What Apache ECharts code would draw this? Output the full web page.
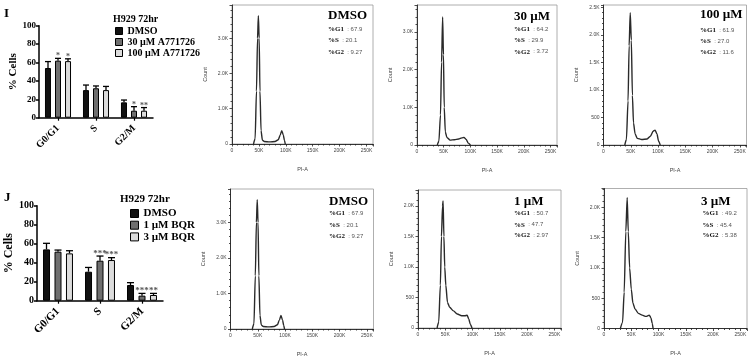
<!DOCTYPE html>
<html><head><meta charset="utf-8">
<script src="https://cdn.jsdelivr.net/npm/echarts@6/dist/echarts.min.js"></script>
<style>html,body{margin:0;padding:0;background:#fff}#c{width:751px;height:358px}</style>
</head><body><div id="c"></div>
<script>
// ---------- data ----------
const phases = ['G0/G1', 'S', 'G2/M'];
const legendTitle = 'H929 72hr';
const namesI = ['DMSO', '30 µM A771726', '100 µM A771726'];
const namesJ = ['DMSO', '1 µM BQR', '3 µM BQR'];
const meanI = [[54, 30, 16.7], [62, 32, 7.6], [61.5, 30, 7.6]];
const errTopI = [[61, 35.5, 19.2], [64.5, 34.5, 12], [64, 34, 11]];
const sigI = [['', '', ''], ['*', '', '*'], ['*', '', '**']];
const meanJ = [[54, 30.5, 16.5], [51.6, 42.1, 5.3], [49.8, 42.8, 6]];
const errTopJ = [[60.4, 35, 19], [53.3, 47, 7.7], [52.6, 45.3, 7.7]];
const sigJ = [['', '', ''], ['', '***', '***'], ['', '***', '**']];

const histTitles = ['DMSO', '30 µM', '100 µM', 'DMSO', '1 µM', '3 µM'];
const pctG1 = ['67.9', '64.2', '61.9', '67.9', '50.7', '49.2'];
const pctS = ['20.1', '29.9', '27.0', '20.1', '47.7', '45.4'];
const pctG2 = ['9.27', '3.72', '11.6', '9.27', '2.97', '5.38'];

// PI-A in thousands, Count
const xDmso = [40, 43, 45.5, 47.5, 49, 50.5, 52, 54, 56.5, 60, 70, 80, 86, 89.5, 92.5, 95.5, 97.5, 99];
const yDmso = [0, 150, 1500, 3000, 3640, 3000, 1500, 380, 110, 70, 60, 70, 120, 250, 380, 250, 100, 0];
const x30 = [38, 41, 44, 46, 48, 49.5, 51, 53, 56, 62, 70, 78, 84, 88, 92, 96, 100];
const y30 = [0, 100, 800, 2200, 3400, 2400, 1000, 350, 200, 130, 140, 160, 190, 200, 150, 50, 0];
const x100 = [39, 42, 45, 47, 49, 51, 53, 55, 58, 62, 70, 80, 86, 91, 94.5, 98, 101, 104];
const y100 = [0, 100, 800, 1800, 2400, 1900, 900, 400, 200, 120, 100, 110, 160, 250, 270, 200, 70, 0];
const x1 = [35, 38, 41, 43, 45, 46, 47.5, 49, 51, 54, 58, 65, 72, 80, 86, 90, 93, 96, 99];
const y1 = [0, 100, 700, 1500, 2000, 2080, 1500, 1000, 700, 420, 340, 280, 230, 200, 200, 210, 150, 60, 0];
const x3 = [30, 34, 37, 40, 42.5, 44.5, 47, 50, 53, 57, 63, 70, 77, 83, 86, 88.5, 90];
const y3 = [0, 100, 600, 1600, 2160, 1600, 1000, 650, 420, 320, 250, 220, 200, 220, 180, 80, 0];
const histX = [xDmso, x30, x100, xDmso, x1, x3];
const histY = [yDmso, y30, y100, yDmso, y1, y3];
const histYMax = [3940, 3720, 2540, 3940, 2260, 2310];
const histYStep = [1000, 1000, 500, 1000, 500, 500];

// ---------- layout / style ----------
const SERIF = '"Liberation Serif","Times New Roman",serif';
const SANS = '"Liberation Sans",Arial,sans-serif';
const barColors = ['#111111', '#6f6f6f', '#dcdcdc'];
const histGrids = [
  {left: 232, top: 5, width: 141, height: 139},
  {left: 417, top: 5, width: 140, height: 140},
  {left: 603.5, top: 5, width: 143, height: 140},
  {left: 230.5, top: 189, width: 143, height: 140},
  {left: 418, top: 190, width: 143, height: 138},
  {left: 604, top: 188.5, width: 143, height: 140}
];
const annPos = [
  {lx: 328, ly: 16, tx: 328, ty: [29, 40.5, 52]},
  {lx: 514, ly: 17, tx: 514, ty: [29.3, 40.3, 51.7]},
  {lx: 700, ly: 15, tx: 700, ty: [30, 41.3, 52.3]},
  {lx: 329, ly: 201.7, tx: 329, ty: [213.3, 225, 236.3]},
  {lx: 514, ly: 201.7, tx: 514, ty: [213.3, 224.7, 235]},
  {lx: 701, ly: 201.7, tx: 702.5, ty: [213.3, 225, 235]}
];

const grids = [
  {left: 39, top: 25.7, width: 114, height: 92},
  {left: 37, top: 205.7, width: 126, height: 95}
].concat(histGrids.map(g => Object.assign({show: true, borderColor: '#9a9a9a', borderWidth: 0.8}, g)));

function barX(gi, fs) {
  return {gridIndex: gi, type: 'category', data: phases,
    axisLine: {show: true, lineStyle: {color: '#000', width: 1.5}},
    axisTick: {show: true, alignWithLabel: true, length: 3, lineStyle: {color: '#000', width: 1.2}},
    axisLabel: {rotate: 45, margin: 9, fontFamily: SERIF, fontWeight: 'bold', fontSize: fs, color: '#000'}};
}
function barY(gi, fs, nfs, gap) {
  return {gridIndex: gi, type: 'value', min: 0, max: 100, interval: 20,
    axisLine: {show: true, lineStyle: {color: '#000', width: 1.5}},
    axisTick: {show: true, length: 3, lineStyle: {color: '#000', width: 1.5}},
    axisLabel: {margin: 3, fontFamily: SERIF, fontWeight: 'bold', fontSize: fs, color: '#000'},
    splitLine: {show: false},
    name: '% Cells', nameLocation: 'middle', nameGap: gap,
    nameTextStyle: {fontFamily: SERIF, fontWeight: 'bold', fontSize: nfs, color: '#000'}};
}
const kfmt = v => v === 0 ? '0' : v + 'K';
const cfmt = v => v === 0 ? '0' : (v >= 1000 ? (v / 1000).toFixed(1) + 'K' : String(v));
const axLine = {show: true, onZero: false, lineStyle: {color: '#222', width: 0.9}};
const tickSty = {color: '#222', width: 0.8};

const xAxes = [barX(0, 10), barX(1, 11)];
const yAxes = [barY(0, 9, 11, 13), barY(1, 10, 12, 16)];
histGrids.forEach((g, k) => {
  xAxes.push({gridIndex: k + 2, type: 'value', min: 0, max: 262.144, interval: 50,
    axisLine: axLine, axisTick: {show: true, length: 2.5, lineStyle: tickSty},
    minorTick: {show: true, splitNumber: 5, length: 1.5, lineStyle: tickSty},
    axisLabel: {fontFamily: SANS, fontSize: 5, color: '#444', margin: 4, formatter: kfmt, showMaxLabel: false},
    splitLine: {show: false}, minorSplitLine: {show: false},
    name: 'PI-A', nameLocation: 'middle', nameGap: 22, nameTextStyle: {fontFamily: SANS, fontSize: 5.5, color: '#444'}});
  yAxes.push({gridIndex: k + 2, type: 'value', min: 0, max: histYMax[k], interval: histYStep[k],
    axisLine: axLine, axisTick: {show: true, length: 2.5, lineStyle: tickSty},
    minorTick: {show: true, splitNumber: 5, length: 1.5, lineStyle: tickSty},
    axisLabel: {fontFamily: SANS, fontSize: 5, color: '#444', margin: 4, formatter: cfmt, showMaxLabel: false},
    splitLine: {show: false}, minorSplitLine: {show: false},
    name: 'Count', nameLocation: 'middle', nameGap: 24, nameTextStyle: {fontFamily: SANS, fontSize: 5.5, color: '#444'}});
});

function errSeries(ax, si, means, tops, sigs, barW, gap, fs) {
  return {type: 'custom', xAxisIndex: ax, yAxisIndex: ax, z: 5, silent: true,
    data: means.map((m, i) => [i, m, tops[i]]),
    renderItem(params, api) {
      const c = api.value(0), m = api.value(1), e = api.value(2);
      const p0 = api.coord([c, m]), p1 = api.coord([c, e]);
      const x = p0[0] + (si - 1) * (barW + gap);
      const h = barW / 2;
      return {type: 'group', children: [
        {type: 'line', shape: {x1: x, y1: p0[1], x2: x, y2: p1[1]}, style: {stroke: '#000', lineWidth: 1.3}},
        {type: 'line', shape: {x1: x - h, y1: p1[1], x2: x + h, y2: p1[1]}, style: {stroke: '#000', lineWidth: 1.3}},
        {type: 'text', style: {text: sigs[params.dataIndex], x: x, y: p1[1] + 2, align: 'center', verticalAlign: 'bottom',
          font: 'bold ' + fs + 'px ' + SERIF, fill: '#555'}}
      ]};
    }};
}

const series = [];
[[namesI, meanI, errTopI, sigI, 0, 6, 4, 8], [namesJ, meanJ, errTopJ, sigJ, 1, 7, 4.5, 9]].forEach(([names, means, tops, sigs, ax, bw, gap, fs]) => {
  names.forEach((n, i) => {
    series.push({type: 'bar', name: n, xAxisIndex: ax, yAxisIndex: ax, data: means[i], barWidth: bw,
      barGap: (gap / bw * 100).toFixed(0) + '%', itemStyle: {color: barColors[i], borderColor: '#000', borderWidth: 1}, silent: true});
  });
  names.forEach((n, i) => series.push(errSeries(ax, i, means[i], tops[i], sigs[i], bw, gap, fs)));
});
histX.forEach((xs, k) => {
  series.push({type: 'line', xAxisIndex: k + 2, yAxisIndex: k + 2, data: xs.map((x, i) => [x, histY[k][i]]),
    showSymbol: false, smooth: 0.25, smoothMonotone: 'x', lineStyle: {color: '#2a2a2a', width: 1.4}, silent: true});
});

const graphic = [
  {type: 'text', x: 4, y: 14, style: {text: 'I', font: 'bold 13px ' + SERIF, fill: '#000', verticalAlign: 'middle'}},
  {type: 'text', x: 4, y: 198, style: {text: 'J', font: 'bold 13px ' + SERIF, fill: '#000', verticalAlign: 'middle'}},
  {type: 'text', x: 113, y: 19, style: {text: legendTitle, font: 'bold 10px ' + SERIF, fill: '#000', verticalAlign: 'middle'}},
  {type: 'text', x: 120, y: 199, style: {text: legendTitle, font: 'bold 11px ' + SERIF, fill: '#000', verticalAlign: 'middle'}}
];
const rich = {b: {font: 'bold 7px ' + SERIF, fill: '#111'}, v: {font: '6px ' + SANS, fill: '#555'}};
const rows = [['%G1', pctG1], ['%S', pctS], ['%G2', pctG2]];
annPos.forEach((p, k) => {
  graphic.push({type: 'text', x: p.lx, y: p.ly, style: {text: histTitles[k], font: 'bold 13px ' + SERIF, fill: '#000', verticalAlign: 'middle'}});
  rows.forEach(([lab, arr], r) => {
    graphic.push({type: 'text', x: p.tx, y: p.ty[r], style: {text: '{b|' + lab + '} {v|: ' + arr[k] + '}', rich: rich, verticalAlign: 'middle'}});
  });
});

const legendBase = {orient: 'vertical', icon: 'rect', selectedMode: false, padding: 0,
  itemStyle: {borderColor: '#000', borderWidth: 1}};
const legend = [
  Object.assign({}, legendBase, {data: namesI, left: 115, top: 26, itemWidth: 7, itemHeight: 7, itemGap: 1,
    textStyle: {fontFamily: SERIF, fontWeight: 'bold', fontSize: 10, color: '#000'}}),
  Object.assign({}, legendBase, {data: namesJ, left: 130, top: 208, itemWidth: 8, itemHeight: 8, itemGap: 0.7,
    textStyle: {fontFamily: SERIF, fontWeight: 'bold', fontSize: 11, color: '#000'}})
];

const chart = echarts.init(document.getElementById('c'), null, {renderer: 'canvas', width: 751, height: 358});
chart.setOption({animation: false, backgroundColor: '#fff', grid: grids, xAxis: xAxes, yAxis: yAxes,
  series: series, legend: legend, graphic: graphic});
</script></body></html>
